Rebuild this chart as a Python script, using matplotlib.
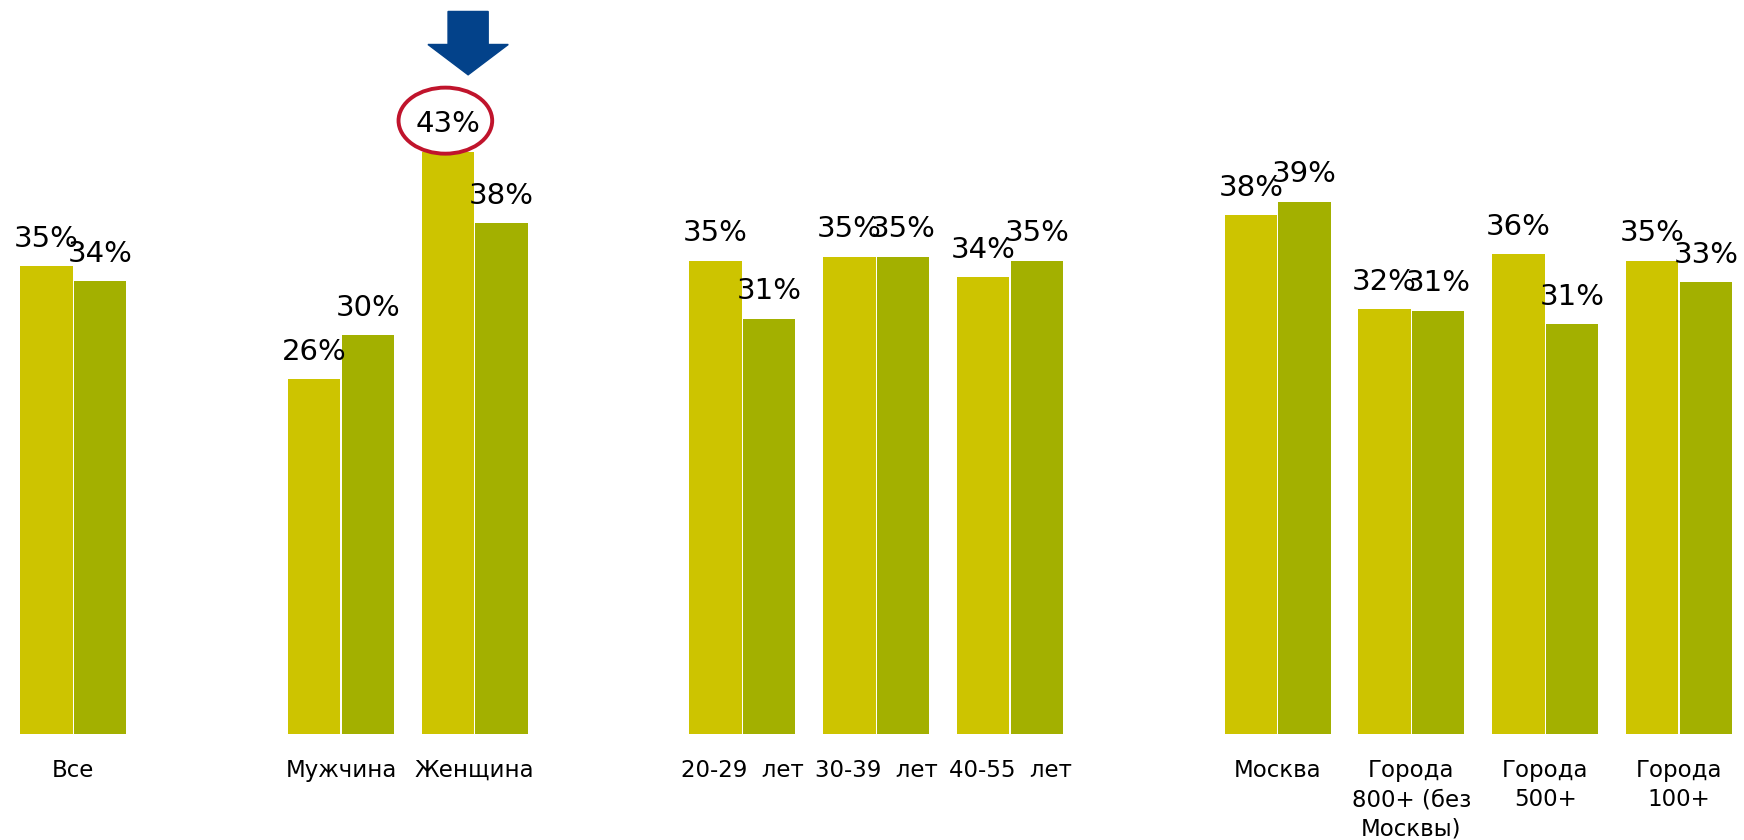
import matplotlib
matplotlib.use("Agg")
import matplotlib.pyplot as plt
from matplotlib.patches import Ellipse, FancyArrow
import numpy as np

# categories and their slot on the x axis (empty slots separate the groups)
categories = ["Все", "Мужчина", "Женщина", "20-29  лет", "30-39  лет", "40-55  лет",
	"Москва", "Города\n800+ (без\nМосквы)", "Города\n500+", "Города\n100+"]
slots = [0, 2, 3, 5, 6, 7, 9, 10, 11, 12]

# two series, values
series1 = [34.7, 26.3, 43.2, 35.1, 35.4, 33.9, 38.5, 31.5, 35.6, 35.1]
series2 = [33.6, 29.6, 37.9, 30.8, 35.4, 35.1, 39.5, 31.4, 30.4, 33.5]
labels1 = ["35%", "26%", "43%", "35%", "35%", "34%", "38%", "32%", "36%", "35%"]
labels2 = ["34%", "30%", "38%", "31%", "35%", "35%", "39%", "31%", "31%", "33%"]

YELLOW = "#CDC400"
GREEN = "#A3B000"
W = 0.392

fig = plt.figure(figsize=(17.44, 8.40), dpi=100)
ax = fig.add_axes([6.5 / 1744, 106 / 840, 13 * 133.8 / 1744, 734 / 840])

x = np.array(slots, dtype=float)
b1 = ax.bar(x - 0.2, series1, width=W, color=YELLOW)
b2 = ax.bar(x + 0.2, series2, width=W, color=GREEN)

# value labels above each bar
for bars, labs in ((b1, labels1), (b2, labels2)):
	for rect, lab in zip(bars, labs):
		ax.annotate(lab, (rect.get_x() + rect.get_width() / 2, rect.get_height()),
			xytext=(0, 14), textcoords="offset points", ha="center", va="baseline",
			fontsize=21, family="DejaVu Sans", color="black")

ax.set_xlim(-0.5, 12.5)
ax.set_ylim(0, 54.45)
ax.set_yticks([])
ax.set_xticks(x)
ax.set_xticklabels(categories, fontsize=16.5, family="DejaVu Sans", linespacing=1.35, va="top")
ax.tick_params(axis="x", length=0, pad=18)
for s in ax.spines.values():
	s.set_visible(False)

# highlight the women bar: red ellipse round the label and a blue arrow
i = categories.index("Женщина")
cx = x[i] - 0.2
ax.add_patch(Ellipse((cx - 0.02, series1[i] + 2.3), 0.70, 4.9, fill=False,
	edgecolor="#C0142C", linewidth=2.8, clip_on=False))
ax.add_patch(FancyArrow(x[i] - 0.05, 53.6, 0, -4.7, width=0.30, head_width=0.60,
	head_length=2.25, length_includes_head=True, color="#03428A", clip_on=False))

fig.savefig("out.png", dpi=100)
